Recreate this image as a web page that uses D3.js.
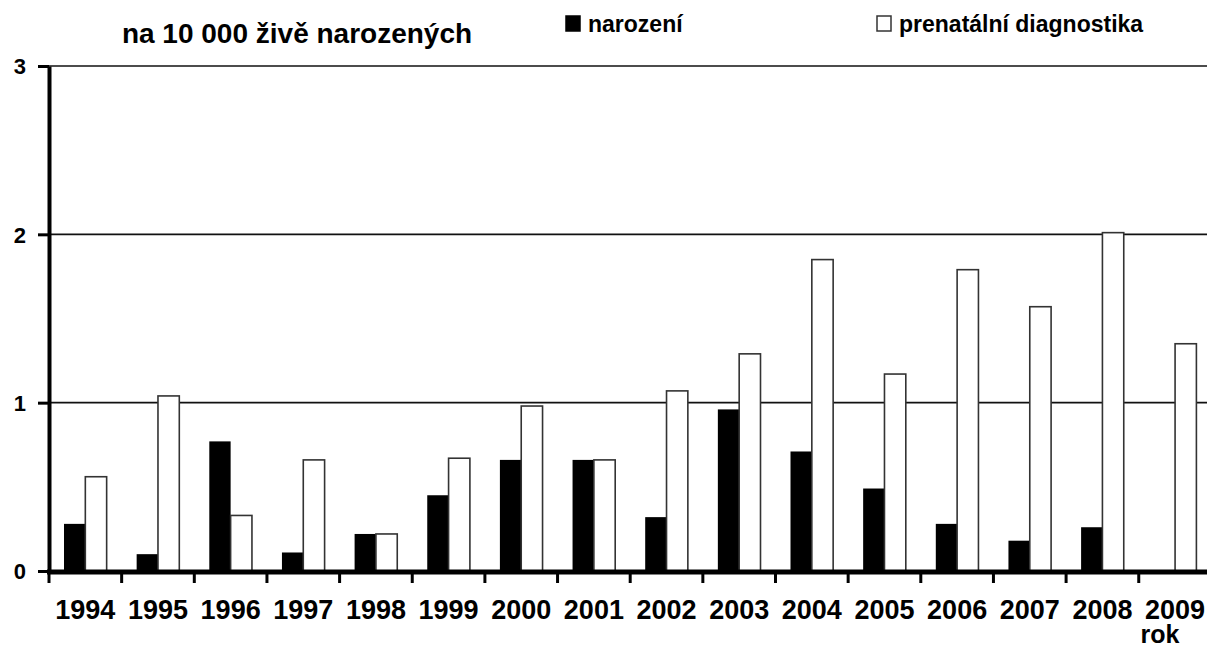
<!DOCTYPE html>
<html>
<head>
<meta charset="utf-8">
<script src="https://cdn.jsdelivr.net/npm/d3@7"></script>
<style>
  body { margin: 0; background: #fff; }
  text { font-family: "Liberation Sans", Arial, sans-serif; font-weight: bold; fill: #000; }
</style>
</head>
<body>
<div id="chart"></div>
<script>
// data
var years = ["1994", "1995", "1996", "1997", "1998", "1999", "2000", "2001",
             "2002", "2003", "2004", "2005", "2006", "2007", "2008", "2009"];
var narozeni = [0.28, 0.10, 0.77, 0.11, 0.22, 0.45, 0.66, 0.66,
                0.32, 0.96, 0.71, 0.49, 0.28, 0.18, 0.26, 0];
var prenatalni = [0.56, 1.04, 0.33, 0.66, 0.22, 0.67, 0.98, 0.66,
                  1.07, 1.29, 1.85, 1.17, 1.79, 1.57, 2.01, 1.35];
var yTicks = [0, 1, 2, 3];
var seriesNames = ["narození", "prenatální diagnostika"];

var svgWidth = 1207;
var svgHeight = 648;
var axisX = 49;
var bandW = 72.65;

var svg = d3.select("#chart")
  .append("svg")
  .attr("width", svgWidth)
  .attr("height", svgHeight);

// scales
var x0 = d3.scaleBand()
  .domain(years)
  .range([axisX, axisX + years.length * bandW])
  .padding(0);

var x1 = d3.scaleBand()
  .domain(["n", "p"])
  .range([15, x0.bandwidth() - 15]);

var y = d3.scaleLinear()
  .domain([0, 3])
  .range([571, 66]);

// gridlines
svg.append("g")
  .selectAll("line")
  .data(yTicks.filter(d => d > 0))
  .enter()
  .append("line")
  .attr("x1", axisX)
  .attr("x2", svgWidth)
  .attr("y1", d => y(d))
  .attr("y2", d => y(d))
  .attr("stroke", "#111")
  .attr("stroke-width", 1.6);

// bars
var rows = years.map((yr, i) => ({year: yr, n: narozeni[i], p: prenatalni[i]}));

var groups = svg.append("g")
  .selectAll("g")
  .data(rows)
  .enter()
  .append("g")
  .attr("transform", d => `translate(${x0(d.year)},0)`);

groups.filter(d => d.n > 0)
  .append("rect")
  .attr("x", x1("n"))
  .attr("width", x1.bandwidth())
  .attr("y", d => y(d.n))
  .attr("height", d => y(0) - y(d.n))
  .attr("fill", "#000");

groups.append("rect")
  .attr("x", x1("p"))
  .attr("width", x1.bandwidth())
  .attr("y", d => y(d.p))
  .attr("height", d => y(0) - y(d.p))
  .attr("fill", "#fff")
  .attr("stroke", "#333")
  .attr("stroke-width", 1.6);

// y axis
var leftAxis = d3.axisLeft(y)
  .tickValues(yTicks)
  .tickFormat(d3.format("d"))
  .tickSize(11)
  .tickSizeOuter(0)
  .tickPadding(12);

var yAxisG = svg.append("g")
  .attr("transform", `translate(${axisX},0)`)
  .call(leftAxis);
yAxisG.select(".domain").attr("stroke", "#000").attr("stroke-width", 4);
yAxisG.selectAll(".tick line").attr("stroke", "#000").attr("stroke-width", 3);
yAxisG.selectAll(".tick text")
  .style("font-size", "22px")
  .style("font-family", "'Liberation Sans', Arial, sans-serif")
  .style("font-weight", "bold")
  .attr("dy", "0.36em");

// x axis: labels at band centres, ticks at band edges
var bottomAxis = d3.axisBottom(x0)
  .tickSize(0)
  .tickSizeOuter(0);

var xAxisG = svg.append("g")
  .attr("transform", `translate(0,${y(0) + 1})`)
  .call(bottomAxis);
xAxisG.select(".domain").remove();
xAxisG.selectAll(".tick text")
  .attr("y", 47)
  .attr("dy", "0")
  .style("font-size", "27px")
  .style("font-family", "'Liberation Sans', Arial, sans-serif")
  .style("font-weight", "bold");

xAxisG.append("line")
  .attr("x1", axisX - 2)
  .attr("x2", svgWidth)
  .attr("y1", 0)
  .attr("y2", 0)
  .attr("stroke", "#000")
  .attr("stroke-width", 5);

xAxisG.selectAll("line.edge")
  .data(years)
  .enter()
  .append("line")
  .attr("class", "edge")
  .attr("x1", d => x0(d))
  .attr("x2", d => x0(d))
  .attr("y1", 0)
  .attr("y2", 11)
  .attr("stroke", "#000")
  .attr("stroke-width", 3);

// axis title
svg.append("text")
  .attr("x", x0("2009") + x0.bandwidth() / 2 - 15)
  .attr("y", 643)
  .attr("text-anchor", "middle")
  .style("font-size", "25px")
  .text("rok");

// title
svg.append("text")
  .attr("x", 297)
  .attr("y", 43)
  .attr("text-anchor", "middle")
  .style("font-size", "28px")
  .text("na 10 000 živě narozených");

// legend
var legendX = [566, 877];
var legend = svg.append("g")
  .selectAll("g")
  .data(seriesNames)
  .enter()
  .append("g")
  .attr("transform", (d, i) => `translate(${legendX[i]},16)`);

legend.append("rect")
  .attr("width", 14)
  .attr("height", 15)
  .attr("fill", (d, i) => i === 0 ? "#000" : "#fff")
  .attr("stroke", (d, i) => i === 0 ? "#000" : "#333")
  .attr("stroke-width", 1.5);

legend.append("text")
  .attr("x", 22)
  .attr("y", 16)
  .style("font-size", "23px")
  .text(d => d);
</script>
</body>
</html>
